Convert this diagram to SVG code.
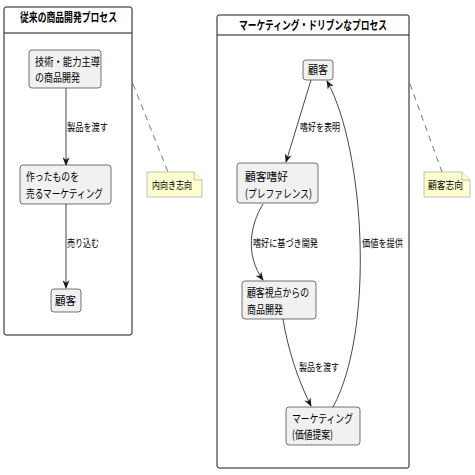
<svg xmlns="http://www.w3.org/2000/svg" width="475" height="475" viewBox="0 0 475 475">
<defs>
<style>
text{font-family:"Noto Sans CJK JP","Noto Sans",sans-serif;fill:#000}
.t{font-size:12px;font-weight:bold}
.n{font-size:11.5px}
.l{font-size:10.5px}
.frame{fill:none;stroke:#181818;stroke-width:1}
.node{fill:#f1f1f1;stroke:#181818;stroke-width:0.6}
.note{fill:#fefece;stroke:#999;stroke-width:0.6}
.edge{fill:none;stroke:#181818;stroke-width:0.8}
.dash{fill:none;stroke:#181818;stroke-width:0.6;stroke-dasharray:6 5}
</style>
<marker id="arr" viewBox="0 0 10 8" refX="9" refY="4" markerWidth="9" markerHeight="7" orient="auto" markerUnits="userSpaceOnUse">
<path d="M0,0 L10,4 L0,8 L3,4 Z" fill="#181818"/>
</marker>
</defs>
<rect width="475" height="475" fill="#fff"/>

<g id="frame-left">
<rect class="frame" x="4" y="7" width="128" height="328" rx="2"/>
<line class="frame" x1="4" y1="33" x2="132" y2="33"/>
<text class="t" x="20" y="22" textLength="97" lengthAdjust="spacingAndGlyphs">従来の商品開発プロセス</text>
</g>
<g id="frame-right">
<rect class="frame" x="217" y="15" width="192" height="453" rx="2"/>
<line class="frame" x1="217" y1="35" x2="409" y2="35"/>
<text class="t" x="239" y="30" textLength="148" lengthAdjust="spacingAndGlyphs">マーケティング・ドリブンなプロセス</text>
</g>

<g id="connectors">
<line class="edge" x1="66" y1="88" x2="66" y2="165" marker-end="url(#arr)"/>
<line class="edge" x1="66" y1="204" x2="66" y2="288" marker-end="url(#arr)"/>
<path class="edge" d="M311,80 L286,162" marker-end="url(#arr)"/>
<path class="edge" d="M263,204 C250,225 245,255 263,280" marker-end="url(#arr)"/>
<path class="edge" d="M283,319 C288,350 298,380 311,406" marker-end="url(#arr)"/>
<path class="edge" d="M333,407 C375,330 365,150 327,81" marker-end="url(#arr)"/>
<line class="dash" x1="133" y1="84" x2="168" y2="172"/>
<line class="dash" x1="410" y1="84" x2="442" y2="172"/>
<text class="l" x="67" y="131" textLength="41" lengthAdjust="spacingAndGlyphs">製品を渡す</text>
<text class="l" x="67" y="247" textLength="32" lengthAdjust="spacingAndGlyphs">売り込む</text>
<text class="l" x="300" y="131" textLength="40" lengthAdjust="spacingAndGlyphs">嗜好を表明</text>
<text class="l" x="253" y="247" textLength="65" lengthAdjust="spacingAndGlyphs">嗜好に基づき開発</text>
<text class="l" x="362" y="247" textLength="41" lengthAdjust="spacingAndGlyphs">価値を提供</text>
<text class="l" x="299" y="371" textLength="40" lengthAdjust="spacingAndGlyphs">製品を渡す</text>
</g>

<g id="node-tech">
<rect class="node" x="29" y="50" width="72" height="38" rx="3"/>
<text class="n" x="35" y="66" textLength="65" lengthAdjust="spacingAndGlyphs">技術・能力主導</text>
<text class="n" x="35" y="82" textLength="45" lengthAdjust="spacingAndGlyphs">の商品開発</text>
</g>
<g id="node-sell">
<rect class="node" x="20" y="165" width="91" height="39" rx="3"/>
<text class="n" x="26" y="181" textLength="53" lengthAdjust="spacingAndGlyphs">作ったものを</text>
<text class="n" x="26" y="198" textLength="77" lengthAdjust="spacingAndGlyphs">売るマーケティング</text>
</g>
<g id="node-cust-left">
<rect class="node" x="51" y="289" width="30" height="23" rx="3"/>
<text class="n" x="55" y="305" textLength="21" lengthAdjust="spacingAndGlyphs">顧客</text>
</g>
<g id="note-left">
<path class="note" d="M147,172 L194,172 L202,180 L202,197 L147,197 Z"/>
<path class="note" d="M194,172 L194,180 L202,180"/>
<text class="l" x="152" y="189" textLength="40" lengthAdjust="spacingAndGlyphs">内向き志向</text>
</g>

<g id="node-cust-right">
<rect class="node" x="303" y="60" width="30" height="20" rx="3"/>
<text class="n" x="308" y="74" textLength="20" lengthAdjust="spacingAndGlyphs">顧客</text>
</g>
<g id="node-pref">
<rect class="node" x="237" y="163" width="81" height="40" rx="3"/>
<text class="n" x="245" y="181" textLength="43" lengthAdjust="spacingAndGlyphs">顧客嗜好</text>
<text class="n" x="245" y="198" textLength="67" lengthAdjust="spacingAndGlyphs">(プレファレンス)</text>
</g>
<g id="node-dev">
<rect class="node" x="242" y="281" width="74" height="38" rx="3"/>
<text class="n" x="247" y="297" textLength="62" lengthAdjust="spacingAndGlyphs">顧客視点からの</text>
<text class="n" x="247" y="314" textLength="36" lengthAdjust="spacingAndGlyphs">商品開発</text>
</g>
<g id="node-mkt">
<rect class="node" x="286" y="407" width="74" height="38" rx="3"/>
<text class="n" x="292" y="423" textLength="61" lengthAdjust="spacingAndGlyphs">マーケティング</text>
<text class="n" x="292" y="439" textLength="41" lengthAdjust="spacingAndGlyphs">(価値提案)</text>
</g>
<g id="note-right">
<path class="note" d="M424,172 L462,172 L470,180 L470,197 L424,197 Z"/>
<path class="note" d="M462,172 L462,180 L470,180"/>
<text class="l" x="428" y="189" textLength="35" lengthAdjust="spacingAndGlyphs">顧客志向</text>
</g>
</svg>
